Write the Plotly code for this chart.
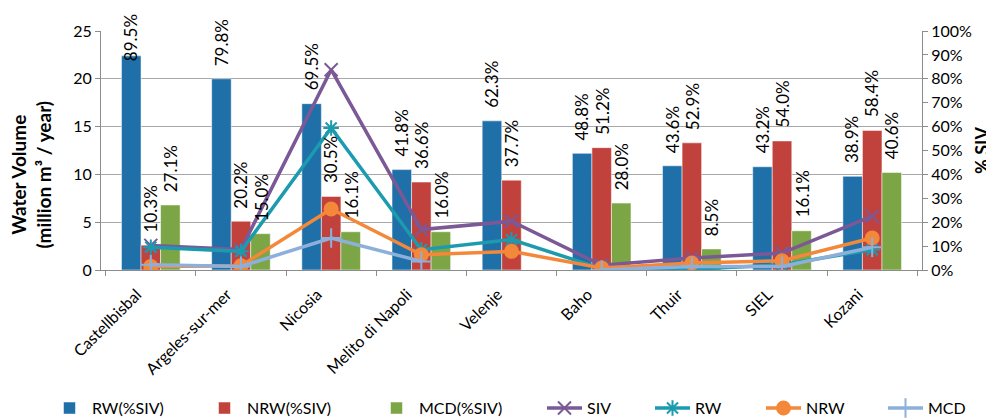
import plotly.graph_objects as go

sites = ["Castellbisbal", "Argeles-sur-mer", "Nicosia", "Melito di Napoli", "Velenje",
         "Baho", "Thuir", "SIEL", "Kozani"]

# Bar values (million m3 / year) with their % of SIV labels
rw_vol = [22.4, 20.0, 17.4, 10.5, 15.6, 12.2, 10.9, 10.8, 9.8]
nrw_vol = [2.6, 5.1, 7.7, 9.2, 9.4, 12.8, 13.3, 13.5, 14.6]
mcd_vol = [6.8, 3.8, 4.0, 4.0, None, 7.0, 2.2, 4.1, 10.2]
rw_lbl = ["89.5%", "79.8%", "69.5%", "41.8%", "62.3%", "48.8%", "43.6%", "43.2%", "38.9%"]
nrw_lbl = ["10.3%", "20.2%", "30.5%", "36.6%", "37.7%", "51.2%", "52.9%", "54.0%", "58.4%"]
mcd_lbl = ["27.1%", "15.0%", "16.1%", "16.0%", None, "28.0%", "8.5%", "16.1%", "40.6%"]

# Line values (% SIV, right axis)
siv_pct = [0.103, 0.086, 0.838, 0.169, 0.204, 0.020, 0.050, 0.071, 0.225]
rw_pct = [0.095, 0.078, 0.594, 0.085, 0.127, 0.006, 0.003, 0.022, 0.085]
nrw_pct = [0.015, 0.018, 0.255, 0.064, 0.078, 0.008, 0.029, 0.039, 0.134]
mcd_pct = [0.022, 0.015, 0.134, 0.036, None, 0.000, 0.015, 0.015, 0.095]

BLUE, RED, GREEN = "#1F6FA9", "#C1423C", "#7CA545"
PURPLE, TEAL, ORANGE, LBLUE = "#7B5896", "#1C9BAF", "#F4883A", "#8DB0DA"
FONT = "Lato"

# legend entry left edges (pixels from the left of the figure)
legend_x = [39, 194, 366, 534, 642, 753, 875]

fig = go.Figure()
bar_series = [("RW(%SIV)", rw_vol, rw_lbl, BLUE),
              ("NRW(%SIV)", nrw_vol, nrw_lbl, RED),
              ("MCD(%SIV)", mcd_vol, mcd_lbl, GREEN)]
line_series = [("SIV", siv_pct, PURPLE, "x-thin-open", 13),
               ("RW", rw_pct, TEAL, "asterisk-open", 13),
               ("NRW", nrw_pct, ORANGE, "circle", 13),
               ("MCD", mcd_pct, LBLUE, "cross-thin-open", 14)]


def leg(i):
    return "legend" if i == 0 else f"legend{i + 1}"


for i, (name, vals, _, col) in enumerate(bar_series):
    fig.add_trace(go.Bar(x=sites, y=vals, name=name, marker_color=col, legend=leg(i),
                         showlegend=True,
                         marker_line=dict(color="rgba(255,255,255,0.5)", width=1)))

for j, (name, vals, col, sym, sz) in enumerate(line_series):
    fig.add_trace(go.Scatter(x=sites, y=vals, yaxis="y2", mode="lines+markers",
                             name=name, legend=leg(j + 3), showlegend=True,
                             line=dict(color=col, width=3.5),
                             marker=dict(symbol=sym, size=sz, color=col,
                                         line=dict(color=col, width=2))))

# percentage labels above bars
for k, (name, vals, lbls, col) in enumerate(bar_series):
    for site, v, t in zip(sites, vals, lbls):
        if t is None:
            continue
        if v > 21:
            fig.add_annotation(x=site, y=1.08, yref="paper", xref="x", text=t,
                               textangle=-90, yanchor="top", showarrow=False,
                               xshift=(k - 1) * 20, font=dict(size=17, family=FONT))
        else:
            fig.add_annotation(x=site, y=v, xref="x", yref="y", text=t,
                               textangle=-90, yanchor="bottom", showarrow=False,
                               yshift=11, xshift=(k - 1) * 20,
                               font=dict(size=17, family=FONT))

# left axis title (Excel places it slightly below the plot centre)
fig.add_annotation(x=-0.085, y=0.40, xref="paper", yref="paper",
                   text="<b>Water Volume<br>(million m³ / year)</b>", textangle=-90,
                   showarrow=False, xanchor="center", yanchor="middle",
                   font=dict(size=19, family=FONT))

AX = "#8C8C8C"
fig.update_layout(
    width=994, height=419, showlegend=True,
    margin=dict(l=93, r=69, t=23, b=157),
    barmode="group", bargap=0.35, bargroupgap=0,
    plot_bgcolor="white", paper_bgcolor="white",
    font=dict(family=FONT, size=16, color="black"),
    xaxis=dict(tickangle=-45, tickson="boundaries", ticks="outside", ticklen=5,
               tickcolor=AX, showline=True, linecolor=AX, showgrid=False,
               ticklabelshift=-14, ticklabelstandoff=8),
    yaxis=dict(range=[0, 25], dtick=5, showgrid=True, gridcolor="#A8A8A8",
               ticks="outside", ticklen=5, tickcolor=AX, showline=True, linecolor=AX,
               zeroline=False),
    yaxis2=dict(overlaying="y", side="right", range=[0, 1], dtick=0.1,
                tickformat=".0%", showgrid=False, ticks="outside", ticklen=5,
                tickcolor=AX, showline=True, linecolor=AX, zeroline=False,
                title=dict(text="<b>% SIV</b>", font=dict(size=18), standoff=5)),
)
for i, lx in enumerate(legend_x):
    fig.update_layout(**{leg(i): dict(orientation="h", xref="container", yref="container",
                                      x=lx / 994, y=0.045, xanchor="left", yanchor="middle",
                                      itemwidth=35, font=dict(size=16), visible=True,
                                      bgcolor="rgba(0,0,0,0)")})

fig.write_html("out.html")
